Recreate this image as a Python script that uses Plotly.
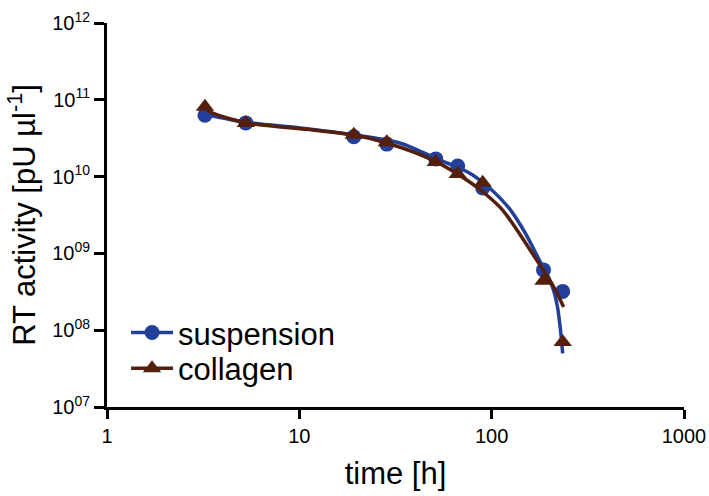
import plotly.graph_objects as go

# Measured data points
time_h = [3.23, 5.27, 19.2, 28.5, 51.2, 66.6, 89.8, 186, 234]
suspension = [6.3e10, 5.0e10, 3.3e10, 2.65e10, 1.7e10, 1.37e10, 7.1e9, 6.1e8, 3.2e8]
collagen = [8.1e10, 5.0e10, 3.5e10, 2.8e10, 1.55e10, 1.08e10, 8.3e9, 4.4e8, 7.0e7]

# Fitted curves
fit_susp_t = [3.23, 5.27, 10.1, 19.2, 33.3, 53.7, 68.2, 79.7, 97.6, 124, 148.4, 177, 195.4, 210, 220, 228, 234]
fit_susp_y = [6.5e10, 5.1e10, 4.3e10, 3.5e10, 2.74e10, 1.64e10, 1.29e10, 1.05e10, 7.1e9, 3.79e9,
              1.9e9, 8.2e8, 5.2e8, 3.3e8, 2.0e8, 1.0e8, 5.0e7]
fit_coll_t = [3.23, 3.55, 5.34, 11.75, 18.9, 28.5, 49.4, 76.9, 94.2, 114, 139.8, 171.3, 193.1, 215, 236.6]
fit_coll_y = [7.8e10, 6.7e10, 5.0e10, 4.04e10, 3.5e10, 2.74e10, 1.64e10, 8.5e9, 5.76e9, 3.67e9,
              1.79e9, 8.2e8, 5.2e8, 3.3e8, 2.0e8]

x_tickvals = [1, 10, 100, 1000]
x_ticktext = ["1", "10", "100", "1000"]
y_tickvals = [1e7, 1e8, 1e9, 1e10, 1e11, 1e12]
y_ticktext = ["10<sup>07</sup>", "10<sup>08</sup>", "10<sup>09</sup>",
              "10<sup>10</sup>", "10<sup>11</sup>", "10<sup>12</sup>"]

BLUE = "#22409a"
BROWN = "#541f0d"
FONT = "Liberation Sans, Arial, sans-serif"

fig = go.Figure()

fig.add_trace(go.Scatter(x=fit_susp_t, y=fit_susp_y, mode="lines",
                         line=dict(color=BLUE, width=3.5, shape="spline", smoothing=0.8),
                         showlegend=False, hoverinfo="skip"))
fig.add_trace(go.Scatter(x=time_h, y=suspension, mode="markers",
                         marker=dict(symbol="circle", size=15, color=BLUE),
                         showlegend=False))
fig.add_trace(go.Scatter(x=fit_coll_t, y=fit_coll_y, mode="lines",
                         line=dict(color=BROWN, width=3.5, shape="spline", smoothing=0.8),
                         showlegend=False, hoverinfo="skip"))
fig.add_trace(go.Scatter(x=time_h, y=collagen, mode="markers",
                         marker=dict(symbol="triangle-up", size=16, color=BROWN),
                         showlegend=False))

# legend entries
fig.add_trace(go.Scatter(x=[None], y=[None], mode="lines+markers", name="suspension",
                         line=dict(color=BLUE, width=3.5), legend="legend",
                         marker=dict(symbol="circle", size=15, color=BLUE)))
fig.add_trace(go.Scatter(x=[None], y=[None], mode="lines+markers", name="collagen",
                         line=dict(color=BROWN, width=3.5), legend="legend2",
                         marker=dict(symbol="triangle-up", size=16, color=BROWN)))

legend_common = dict(x=0.033, xanchor="left", yanchor="middle",
                     font=dict(size=31, family=FONT), bgcolor="rgba(0,0,0,0)",
                     itemwidth=42)

fig.update_layout(
    width=709, height=496,
    margin=dict(l=107, r=25, t=23, b=89),
    paper_bgcolor="white", plot_bgcolor="white",
    font=dict(family=FONT, color="black"),
    legend=dict(y=0.193, **legend_common),
    legend2=dict(y=0.10, **legend_common),
)
fig.update_xaxes(
    type="log", range=[0, 3], automargin=False,
    tickvals=x_tickvals, ticktext=x_ticktext,
    showgrid=False, zeroline=False,
    showline=True, linecolor="black", linewidth=3,
    ticks="outside", ticklen=9, tickwidth=3, tickcolor="black",
    tickfont=dict(size=20, family=FONT),
    title=dict(text="time [h]", font=dict(size=31, family=FONT), standoff=17),
)
fig.update_yaxes(
    type="log", range=[7, 12], automargin=False,
    tickvals=y_tickvals, ticktext=y_ticktext,
    showgrid=False, zeroline=False,
    showline=True, linecolor="black", linewidth=3,
    ticks="outside", ticklen=10, tickwidth=3, tickcolor="black",
    tickfont=dict(size=20, family=FONT),
    title=dict(text="RT activity [pU µl<sup>-1</sup>]", font=dict(size=31, family=FONT), standoff=8),
)

fig.write_html("out.html")
